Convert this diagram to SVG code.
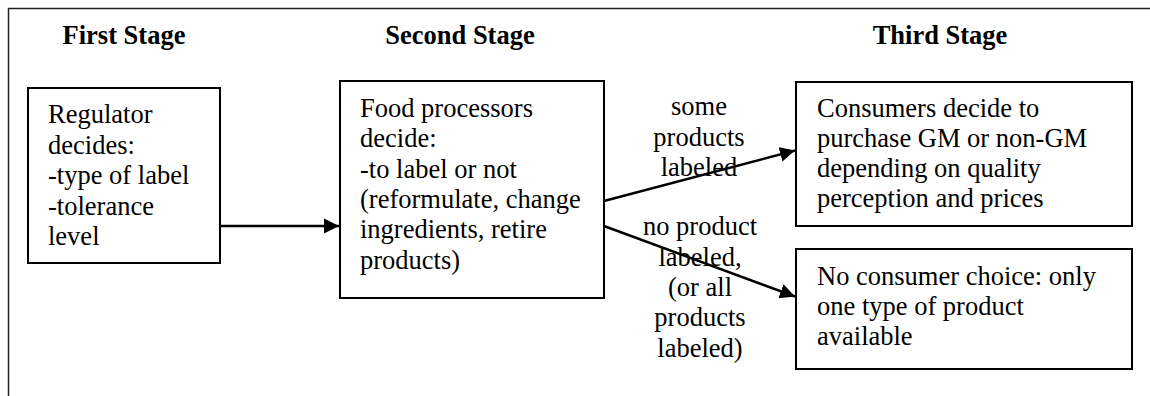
<svg xmlns="http://www.w3.org/2000/svg" width="1150" height="396" viewBox="0 0 1150 396">
<style>
text{font-family:'Liberation Serif','DejaVu Serif',serif;font-size:26.5px;fill:#000}
.h{font-weight:bold;text-anchor:middle}
.c{text-anchor:middle}
.box{fill:#fff;stroke:#000;stroke-width:2}
.frame{fill:none;stroke:#222;stroke-width:1.5}
.conn line{stroke:#000;stroke-width:2.5}
</style>
<defs>
<marker id="ah" markerUnits="userSpaceOnUse" markerWidth="16" markerHeight="16" refX="15" refY="8" orient="auto">
<path d="M0,0.5 L15,8 L0,15.5 Z" fill="#000"/>
</marker>
</defs>
<rect width="1150" height="396" fill="#fff"/>
<path class="frame" d="M8.5,396 V8.5 H1150"/>
<g font-family="Liberation Serif, serif">
<text class="h" x="124" y="44">First Stage</text>
<text class="h" x="460" y="44">Second Stage</text>
<text class="h" x="940" y="44">Third Stage</text>
<g id="regulator">
<rect class="box" x="28" y="88" width="192" height="175"/>
<text x="48"><tspan x="48" y="122.5">Regulator</tspan><tspan x="48" y="153.5">decides:</tspan><tspan x="48" y="184">-type of label</tspan><tspan x="48" y="214.5">-tolerance</tspan><tspan x="48" y="245">level</tspan></text>
</g>
<g id="processors">
<rect class="box" x="340" y="81" width="264" height="217"/>
<text x="360"><tspan x="360" y="116.5">Food processors</tspan><tspan x="360" y="147">decide:</tspan><tspan x="360" y="177.5">-to label or not</tspan><tspan x="360" y="207.5">(reformulate, change</tspan><tspan x="360" y="238">ingredients, retire</tspan><tspan x="360" y="268.5">products)</tspan></text>
</g>
<g id="consumers">
<rect class="box" x="796" y="82" width="336" height="144"/>
<text x="817"><tspan x="817" y="116.5">Consumers decide to</tspan><tspan x="817" y="146.5">purchase GM or non-GM</tspan><tspan x="817" y="176.5">depending on quality</tspan><tspan x="817" y="206.5">perception and prices</tspan></text>
</g>
<g id="nochoice">
<rect class="box" x="796" y="249" width="336" height="120"/>
<text x="817"><tspan x="817" y="285">No consumer choice: only</tspan><tspan x="817" y="315">one type of product</tspan><tspan x="817" y="345">available</tspan></text>
</g>
<g id="labels">
<text class="c"><tspan x="699" y="115">some</tspan><tspan x="699" y="145.5">products</tspan><tspan x="699" y="175.5">labeled</tspan></text>
<text class="c"><tspan x="700" y="235">no product</tspan><tspan x="700" y="265.5">labeled,</tspan><tspan x="700" y="295.5">(or all</tspan><tspan x="700" y="325.5">products</tspan><tspan x="700" y="356.5">labeled)</tspan></text>
</g>
</g>
<g id="connectors" class="conn">
<line x1="220" y1="226" x2="339" y2="226" marker-end="url(#ah)"/>
<line x1="604" y1="201" x2="795" y2="150.5" marker-end="url(#ah)"/>
<line x1="604" y1="226" x2="795" y2="296.5" marker-end="url(#ah)"/>
</g>
</svg>
